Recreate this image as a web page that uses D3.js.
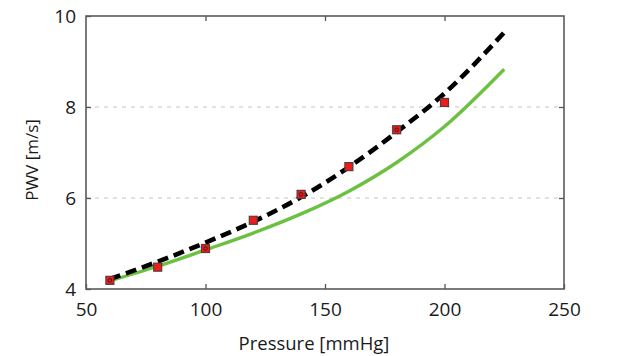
<!DOCTYPE html>
<html><head><meta charset="utf-8">
<script src="https://cdn.jsdelivr.net/npm/d3@7"></script>
<style>body{margin:0;background:#fff}svg{display:block}</style>
</head><body>
<svg id="c" width="629" height="356"></svg>
<script>
const xTicks = [50, 100, 150, 200, 250];
const yTicks = [4, 6, 8, 10];
const gridValues = [6, 8];
const measuredP = [60, 80, 100, 120, 140, 160, 180, 200];
const measuredPWV = [4.19, 4.48, 4.89, 5.51, 6.08, 6.69, 7.50, 8.10];
const ringP = [60, 100, 140, 180];
const ringPWV = [4.19, 4.89, 6.08, 7.50];
const dashedP = [60, 80, 100, 120, 140, 160, 180, 200, 225];
const dashedPWV = [4.22, 4.60, 5.02, 5.48, 6.02, 6.68, 7.45, 8.30, 9.64];
const greenP = [60, 80, 100, 120, 140, 160, 180, 200, 225];
const greenPWV = [4.18, 4.50, 4.86, 5.23, 5.65, 6.15, 6.78, 7.57, 8.83];

const svg = d3.select("#c");
const L = 86, R = 564, T = 16, B = 289;
const x = d3.scaleLinear().domain([50, 250]).range([L, R]);
const y = d3.scaleLinear().domain([4, 10]).range([B, T]);
const font = "'Open Sans', sans-serif";

// grid
svg.append("g").selectAll("line").data(gridValues).join("line")
  .attr("x1", L).attr("x2", R).attr("y1", d => y(d)).attr("y2", d => y(d))
  .attr("stroke", "#c4c4c4").attr("stroke-width", 1).attr("stroke-dasharray", "4,5");

// axes
const axStyle = g => {
  g.select(".domain").remove();
  g.selectAll(".tick line").attr("stroke", "#555").attr("stroke-width", 1.3);
  g.selectAll("text").attr("font-family", font).attr("font-size", 19).attr("fill", "#1a1a1a");
};
svg.append("g").attr("transform", `translate(0,${B})`)
  .call(d3.axisBottom(x).tickValues(xTicks).tickSize(-5).tickPadding(14).tickFormat(d3.format("d")))
  .call(axStyle);
svg.append("g").attr("transform", `translate(0,${T})`)
  .call(d3.axisTop(x).tickValues(xTicks.slice(1, -1)).tickSize(-5).tickFormat(""))
  .call(axStyle);
svg.append("g").attr("transform", `translate(${L},0)`)
  .call(d3.axisLeft(y).tickValues(yTicks).tickSize(-5).tickPadding(10).tickFormat(d3.format("d")))
  .call(axStyle);
svg.append("g").attr("transform", `translate(${R},0)`)
  .call(d3.axisRight(y).tickValues(yTicks.slice(1, -1)).tickSize(-5).tickFormat(""))
  .call(axStyle);

// frame
svg.append("rect").attr("x", L).attr("y", T).attr("width", R - L).attr("height", B - T)
  .attr("fill", "none").attr("stroke", "#5a5a5a").attr("stroke-width", 1.6);

// lines
const line = d3.line().x(d => x(d[0])).y(d => y(d[1])).curve(d3.curveMonotoneX);
svg.append("path").datum(greenP.map((p, i) => [p, greenPWV[i]]))
  .attr("d", line).attr("fill", "none").attr("stroke", "#6cc042").attr("stroke-width", 3.4);
svg.append("path").datum(dashedP.map((p, i) => [p, dashedPWV[i]]))
  .attr("d", line).attr("fill", "none").attr("stroke", "#000").attr("stroke-width", 4.6)
  .attr("stroke-dasharray", "11,6");

// markers
const s = 8;
svg.append("g").selectAll("rect").data(measuredP.map((p, i) => [p, measuredPWV[i]])).join("rect")
  .attr("x", d => x(d[0]) - s / 2).attr("y", d => y(d[1]) - s / 2)
  .attr("width", s).attr("height", s)
  .attr("fill", "#ee1c1c").attr("stroke", "#5a3a3a").attr("stroke-width", 1.2);
svg.append("g").selectAll("circle").data(ringP.map((p, i) => [p, ringPWV[i]])).join("circle")
  .attr("cx", d => x(d[0])).attr("cy", d => y(d[1])).attr("r", 1.8)
  .attr("fill", "none").attr("stroke", "#3a1a1a").attr("stroke-width", 1);

// titles
svg.append("text").attr("x", 314).attr("y", 350).attr("text-anchor", "middle")
  .attr("font-family", font).attr("font-size", 18.5).attr("fill", "#1a1a1a").text("Pressure [mmHg]");
svg.append("text").attr("transform", "translate(38,160) rotate(-90)").attr("text-anchor", "middle")
  .attr("font-family", font).attr("font-size", 17).attr("fill", "#1a1a1a").text("PWV [m/s]");
</script>
</body></html>
